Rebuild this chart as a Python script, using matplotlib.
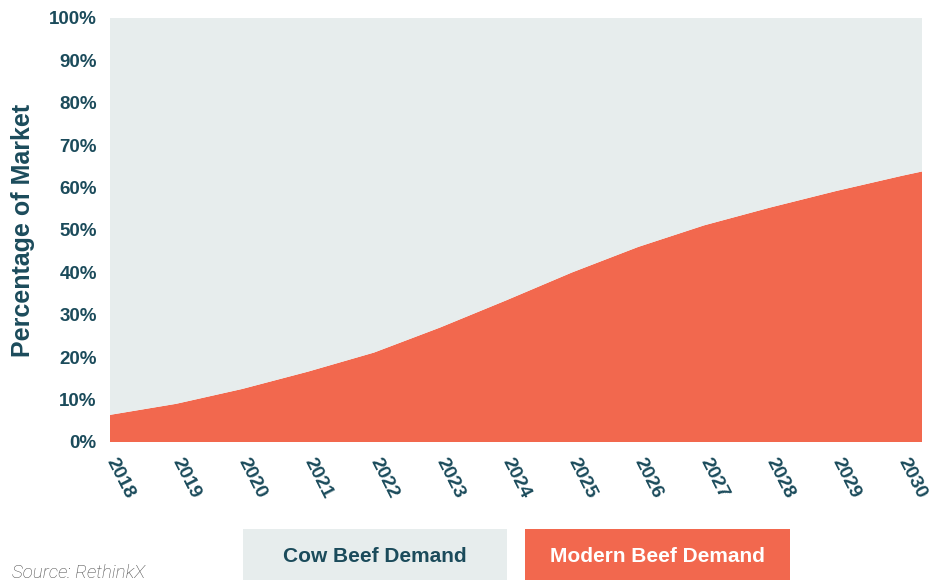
import matplotlib
matplotlib.use("Agg")
import matplotlib.pyplot as plt
from matplotlib.patches import Rectangle
from matplotlib.transforms import ScaledTranslation

# time axis in years (labels at the start of each year); the series runs a little past Jan 2030
time_points = [2018, 2019, 2020, 2021, 2022, 2023, 2024, 2025, 2026, 2027, 2028, 2029, 2030, 2030.3]
modern_share = [6.4, 9.0, 12.5, 16.6, 21.1, 27.0, 33.4, 40.0, 46.0, 51.1, 55.3, 59.2, 62.8, 63.8]
cow_share = [100 - v for v in modern_share]
year_ticks = [2018, 2019, 2020, 2021, 2022, 2023, 2024, 2025, 2026, 2027, 2028, 2029, 2030]
y_ticks = list(range(0, 101, 10))
y_tick_labels = [f"{t}%" for t in y_ticks]
legend_labels = ["Cow Beef Demand", "Modern Beef Demand"]

ORANGE = "#F2684E"
GREY = "#E7EDED"
TEXT = "#1B4B5B"

plt.rcParams['font.family'] = ['Liberation Sans', 'DejaVu Sans']

fig = plt.figure(figsize=(9.33, 5.8), dpi=100)
ax = fig.add_axes([110/933, 138/580, 812/933, 424/580])
ax.stackplot(time_points, modern_share, cow_share, colors=[ORANGE, GREY], linewidth=0)
ax.set_xlim(time_points[0], time_points[-1])
ax.set_ylim(0, 100)
for s in ax.spines.values():
    s.set_visible(False)
ax.set_yticks(y_ticks)
ax.set_yticklabels(y_tick_labels, fontsize=13.5, fontweight='bold', color=TEXT)
ax.set_xticks(year_ticks)
ax.set_xticklabels([str(y) for y in year_ticks], fontsize=14, fontweight='bold', color=TEXT,
                   rotation=-63, ha='left', va='center', rotation_mode='anchor')
off = ScaledTranslation(6.5/100, 0, fig.dpi_scale_trans)
for lab in ax.get_xticklabels():
    lab.set_transform(lab.get_transform() + off)
ax.tick_params(axis='both', length=0)
ax.tick_params(axis='x', pad=12)
ax.tick_params(axis='y', pad=9.5)
ax.set_ylabel("Percentage of Market", fontsize=18, fontweight='bold', color=TEXT)
ax.yaxis.set_label_coords(-(110-35)/812, 0.5)

# legend boxes
boxes = [(243, 507, GREY, TEXT), (525, 790, ORANGE, "white")]
for (x0, x1, fc, tc), lab in zip(boxes, legend_labels):
    fig.patches.append(Rectangle((x0/933, 0), (x1-x0)/933, (580-529)/580,
                                 transform=fig.transFigure, facecolor=fc, edgecolor='none'))
    fig.text((x0+x1)/2/933, (580-557)/580, lab, ha='center', va='center',
             fontsize=15, fontweight='bold', color=tc)

fig.text(12/933, (580-578)/580, "Source: RethinkX", ha='left', va='baseline',
         fontsize=13.5, style='italic', fontweight='light', color='#4A4A4A',
         family=['Roboto', 'DejaVu Sans'])

fig.savefig("out.png", dpi=100)
